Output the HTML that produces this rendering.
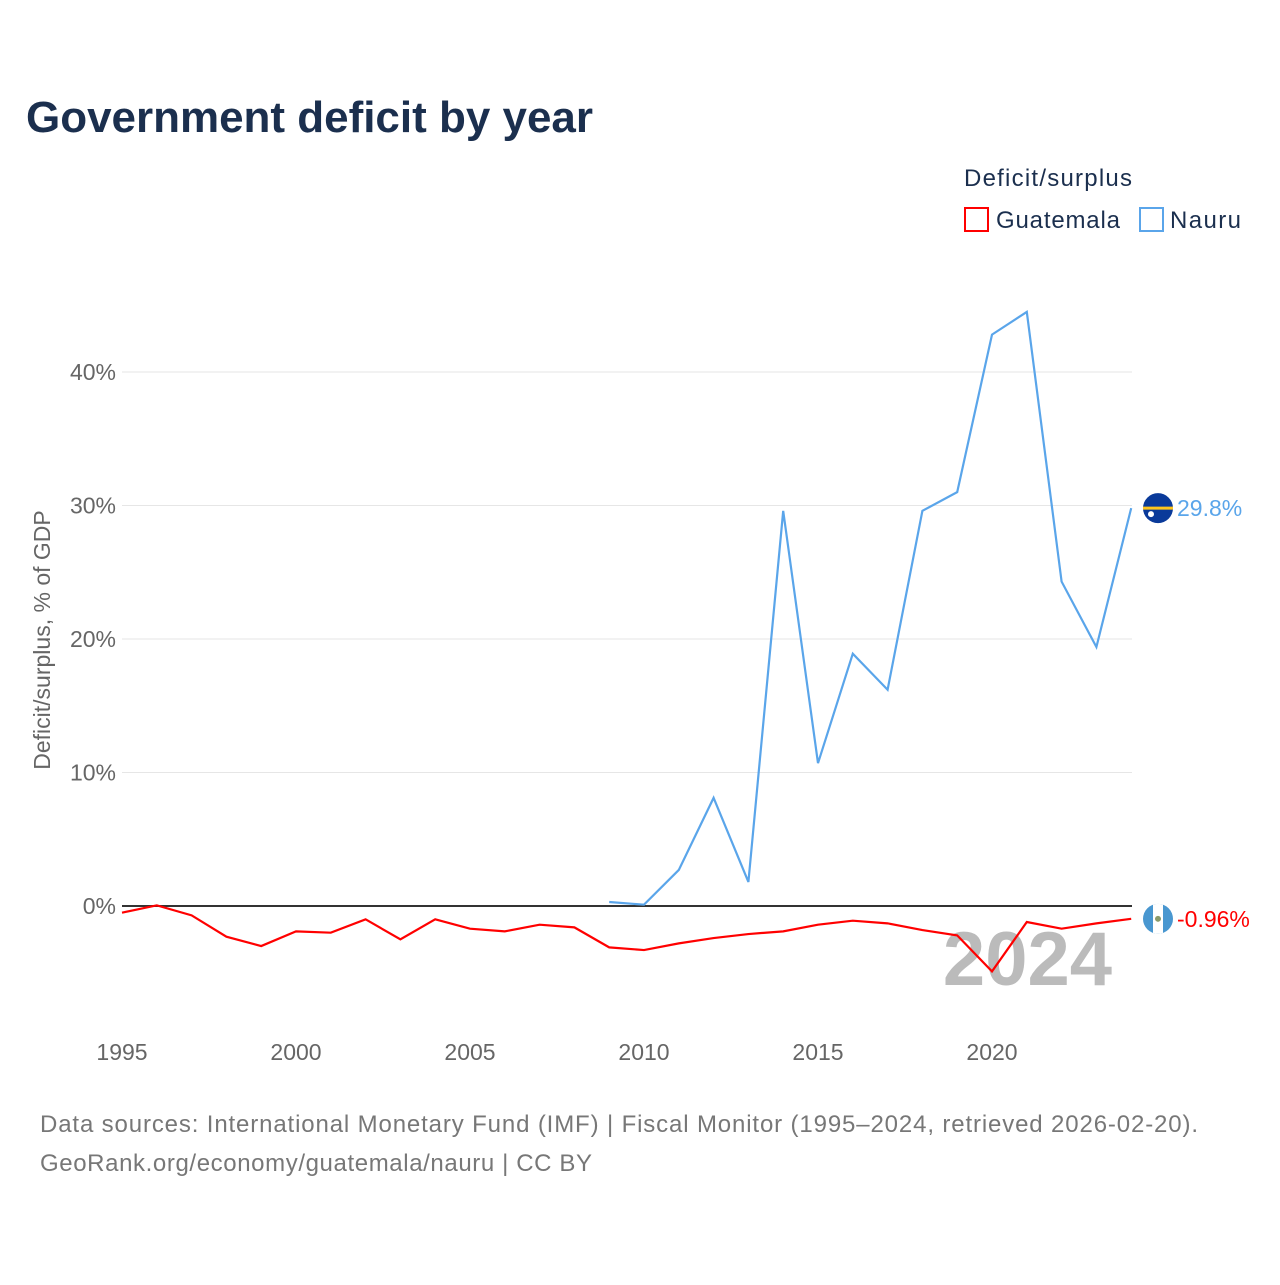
<!DOCTYPE html>
<html><head><meta charset="utf-8"><style>
body{margin:0;background:#fff;font-family:"Liberation Sans",sans-serif}
</style></head><body>
<svg width="1280" height="1280" xmlns="http://www.w3.org/2000/svg" font-family="Liberation Sans, sans-serif">
<rect width="1280" height="1280" fill="#fff"/>
<text x="26" y="132" font-size="44" font-weight="bold" fill="#1b2f4e" textLength="567">Government deficit by year</text>
<text x="964" y="186" font-size="24" fill="#1b2f4e" textLength="168">Deficit/surplus</text>
<g><rect x="965" y="208" width="23" height="23" fill="none" stroke="red" stroke-width="2"/><text x="996" y="228" font-size="24" fill="#1b2f4e" textLength="124">Guatemala</text></g>
<g><rect x="1140" y="208" width="23" height="23" fill="none" stroke="#5aa5ea" stroke-width="2"/><text x="1170" y="228" font-size="24" fill="#1b2f4e" textLength="71">Nauru</text></g>
<g id="grid"></g><g id="xt"></g>
<text transform="translate(50,640) rotate(-90)" text-anchor="middle" font-size="23" fill="#666">Deficit/surplus, % of GDP</text>
<text x="1112" y="985" text-anchor="end" font-size="76" font-weight="bold" fill="#bbb">2024</text>
<g id="series"></g>
<text x="40" y="1132" font-size="24" fill="#777" textLength="1158">Data sources: International Monetary Fund (IMF) | Fiscal Monitor (1995–2024, retrieved 2026-02-20).</text>
<text x="40" y="1171" font-size="24" fill="#777" textLength="552">GeoRank.org/economy/guatemala/nauru | CC BY</text>
</svg>
<script>
const years=[1995,1996,1997,1998,1999,2000,2001,2002,2003,2004,2005,2006,2007,2008,2009,2010,2011,2012,2013,2014,2015,2016,2017,2018,2019,2020,2021,2022,2023,2024];
const guatemala=[-0.5,0.05,-0.7,-2.3,-3.0,-1.9,-2.0,-1.0,-2.5,-1.0,-1.7,-1.9,-1.4,-1.6,-3.1,-3.3,-2.8,-2.4,-2.1,-1.9,-1.4,-1.1,-1.3,-1.8,-2.2,-4.9,-1.2,-1.7,-1.3,-0.96];
const nauruYears=[2009,2010,2011,2012,2013,2014,2015,2016,2017,2018,2019,2020,2021,2022,2023,2024];
const nauru=[0.3,0.1,2.7,8.1,1.8,29.6,10.7,18.9,16.2,29.6,31.0,42.8,44.5,24.3,19.4,29.8];
const yTicks=[0,10,20,30,40];
const xTicks=[1995,2000,2005,2010,2015,2020];
const ns="http://www.w3.org/2000/svg";
const X=y=>122+(y-1995)*34.8, Y=v=>906-v*13.35;
function mk(t,a,p){const e=document.createElementNS(ns,t);for(const k in a)e.setAttribute(k,a[k]);p.appendChild(e);return e;}
const g=document.getElementById('grid');
yTicks.forEach(v=>{
 const l=mk('line',{x1:122,x2:1132,y1:Y(v),y2:Y(v),stroke:v?'#e6e6e6':'#333','stroke-width':v?1:2},g);
 
 
 const t=mk('text',{x:116,y:Y(v)+8,'text-anchor':'end','font-size':23,fill:'#666'},g);t.textContent=v+'%';
 
 
});
const xt=document.getElementById('xt');
xTicks.forEach(v=>{const t=mk('text',{x:X(v),y:1060,'text-anchor':'middle','font-size':23,fill:'#666'},xt);t.textContent=v;
 
 });
const s=document.getElementById('series');
const pg=mk('polyline',{points:years.map((y,i)=>X(y)+','+Y(guatemala[i])).join(' '),fill:'none',stroke:'red','stroke-width':2.2},s);


const pn=mk('polyline',{points:nauruYears.map((y,i)=>X(y)+','+Y(nauru[i])).join(' '),fill:'none',stroke:'#5aa5ea','stroke-width':2.2},s);


const gl=guatemala[guatemala.length-1], nl=nauru[nauru.length-1];
const c1=mk('circle',{cx:1158,cy:Y(nl),r:15,fill:'#0a3a9a'},s);


mk('line',{x1:1143,x2:1173,y1:Y(nl),y2:Y(nl),stroke:'#ffc61e','stroke-width':3},s);
mk('circle',{cx:1151,cy:Y(nl)+6,r:3,fill:'#fff'},s);
const gy=Y(gl);
const cp=mk('clipPath',{id:'gc'},s);mk('circle',{cx:1158,cy:gy,r:15},cp);
const c2=mk('g',{'clip-path':'url(#gc)'},s);


mk('rect',{x:1143,y:gy-15,width:30,height:30,fill:'#4997d0'},c2);
mk('rect',{x:1153,y:gy-15,width:10,height:30,fill:'#fff'},c2);
mk('circle',{cx:1158,cy:gy,r:3,fill:'#8a9a6a'},c2);
const t1=mk('text',{x:1177,y:Y(nl)+8,'font-size':23,fill:'#5aa5ea'},s);t1.textContent=nl.toFixed(1)+'%';


const t2=mk('text',{x:1177,y:gy+8,'font-size':23,fill:'red'},s);t2.textContent=gl.toFixed(2)+'%';


</script>
</body></html>
